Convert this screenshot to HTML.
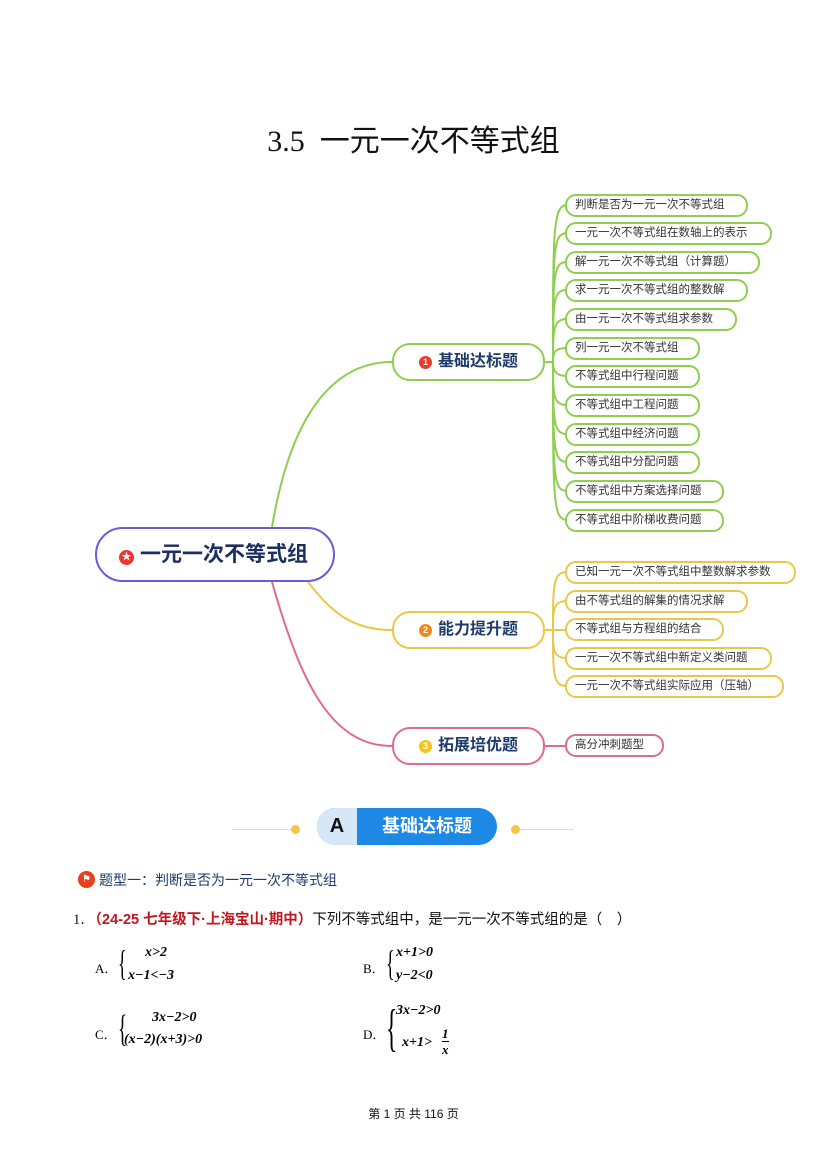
<!DOCTYPE html>
<html><head><meta charset="utf-8"><style>
body{margin:0;background:#fff;}
#p{position:relative;width:827px;height:1169px;overflow:hidden;font-family:"Liberation Sans","Noto Sans CJK SC",sans-serif;}
.a{position:absolute;white-space:nowrap;}
.leaf{position:absolute;height:19px;border:2px solid;border-radius:11px;font-size:11.5px;line-height:19px;padding-left:8px;color:#333;box-sizing:content-box;background:#fff;}
.br{position:absolute;width:149px;height:34px;border:2px solid;border-radius:18px;background:#fff;font-size:16px;font-weight:bold;color:#1d3a6b;line-height:34px;text-align:center;}
.dot{display:inline-block;width:13px;height:13px;border-radius:50%;color:#fff;font-size:9px;line-height:13px;text-align:center;vertical-align:1px;margin-right:6px;}
.serif{font-family:"Liberation Serif","Noto Serif CJK SC",serif;}
</style></head><body><div id="p">
<div class="a" style="left:0;width:827px;top:116px;text-align:center;font-size:30px;color:#111;font-family:'Liberation Serif','Noto Sans CJK SC',serif;">3.5&nbsp; 一元一次不等式组</div>
<svg class="a" style="left:0;top:0" width="827" height="800">
<g fill="none" stroke-width="2">
<path d="M272 527 C 290 420, 330 362, 392 362" stroke="#8fcf4f"/>
<path d="M308 582 C 330 610, 350 630, 392 630" stroke="#e8c84a"/>
<path d="M272 582 C 300 680, 330 746, 392 746" stroke="#e06a94"/>
<g stroke="#8fcf4f">
<path d="M545 362 H553"/>
<path d="M553 362 C553 230,553 205,567 205"/><path d="M553 362 C553 250,553 233,567 233"/>
<path d="M553 362 C553 275,553 262,567 262"/><path d="M553 362 C553 300,553 290,567 290"/>
<path d="M553 362 C553 330,553 319,567 319"/><path d="M553 362 C553 352,555 348,567 348"/>
<path d="M553 362 C553 370,555 376,567 376"/><path d="M553 362 C553 395,553 405,567 405"/>
<path d="M553 362 C553 420,553 434,567 434"/><path d="M553 362 C553 445,553 462,567 462"/>
<path d="M553 362 C553 475,553 491,567 491"/><path d="M553 362 C553 500,553 520,567 520"/>
</g>
<g stroke="#e8c84a">
<path d="M545 630 H553"/>
<path d="M553 630 C553 585,553 572,567 572"/><path d="M553 630 C553 610,553 601,567 601"/>
<path d="M553 630 H567"/><path d="M553 630 C553 650,553 658,567 658"/>
<path d="M553 630 C553 675,553 686,567 686"/>
</g>
<path d="M545 746 H567" stroke="#e06a94"/>
</g></svg>
<div class="a" style="left:95px;top:527px;width:236px;height:51px;border:2.5px solid #7457d8;border-radius:28px;background:#fff;font-size:21px;font-weight:bold;color:#1d2f5e;line-height:51px;padding-left:22px;box-sizing:content-box;width:214px;"><span class="dot" style="background:#e33;width:15px;height:15px;line-height:15px;font-size:10px">★</span>一元一次不等式组</div>
<div class="br" style="left:392px;top:343px;border-color:#8fcf4f"><span class="dot" style="background:#e63b2e">1</span>基础达标题</div>
<div class="br" style="left:392px;top:611px;border-color:#e8c84a"><span class="dot" style="background:#f0861e">2</span>能力提升题</div>
<div class="br" style="left:392px;top:727px;border-color:#e06a94"><span class="dot" style="background:#f5c518">3</span>拓展培优题</div>
<div class="leaf" style="left:565px;top:194px;width:171px;border-color:#8fcf4f">判断是否为一元一次不等式组</div>
<div class="leaf" style="left:565px;top:222px;width:195px;border-color:#8fcf4f">一元一次不等式组在数轴上的表示</div>
<div class="leaf" style="left:565px;top:251px;width:183px;border-color:#8fcf4f">解一元一次不等式组（计算题）</div>
<div class="leaf" style="left:565px;top:279px;width:171px;border-color:#8fcf4f">求一元一次不等式组的整数解</div>
<div class="leaf" style="left:565px;top:308px;width:160px;border-color:#8fcf4f">由一元一次不等式组求参数</div>
<div class="leaf" style="left:565px;top:337px;width:123px;border-color:#8fcf4f">列一元一次不等式组</div>
<div class="leaf" style="left:565px;top:365px;width:123px;border-color:#8fcf4f">不等式组中行程问题</div>
<div class="leaf" style="left:565px;top:394px;width:123px;border-color:#8fcf4f">不等式组中工程问题</div>
<div class="leaf" style="left:565px;top:423px;width:123px;border-color:#8fcf4f">不等式组中经济问题</div>
<div class="leaf" style="left:565px;top:451px;width:123px;border-color:#8fcf4f">不等式组中分配问题</div>
<div class="leaf" style="left:565px;top:480px;width:147px;border-color:#8fcf4f">不等式组中方案选择问题</div>
<div class="leaf" style="left:565px;top:509px;width:147px;border-color:#8fcf4f">不等式组中阶梯收费问题</div>
<div class="leaf" style="left:565px;top:561px;width:219px;border-color:#e8c84a">已知一元一次不等式组中整数解求参数</div>
<div class="leaf" style="left:565px;top:590px;width:171px;border-color:#e8c84a">由不等式组的解集的情况求解</div>
<div class="leaf" style="left:565px;top:618px;width:147px;border-color:#e8c84a">不等式组与方程组的结合</div>
<div class="leaf" style="left:565px;top:647px;width:195px;border-color:#e8c84a">一元一次不等式组中新定义类问题</div>
<div class="leaf" style="left:565px;top:675px;width:207px;border-color:#e8c84a">一元一次不等式组实际应用（压轴）</div>
<div class="leaf" style="left:565px;top:734px;width:87px;border-color:#e06a94">高分冲刺题型</div>
<!-- section header -->
<div class="a" style="left:232px;top:829px;width:60px;height:1px;background:#ddd"></div>
<div class="a" style="left:291px;top:825px;width:9px;height:9px;border-radius:50%;background:#f5c542"></div>
<div class="a" style="left:511px;top:825px;width:9px;height:9px;border-radius:50%;background:#f5c542"></div>
<div class="a" style="left:520px;top:829px;width:54px;height:1px;background:#ddd"></div>
<div class="a" style="left:317px;top:808px;width:180px;height:37px;border-radius:19px;background:#1e88e5;overflow:hidden">
<div style="position:absolute;left:0;top:0;width:40px;height:37px;background:#d6e8f8;font-size:20px;font-weight:bold;color:#111;line-height:37px;text-align:center">A</div>
<div style="position:absolute;left:40px;top:0;width:140px;height:37px;color:#fff;font-size:18px;font-weight:bold;line-height:37px;text-align:center">基础达标题</div></div>
<div class="a" style="left:78px;top:871px;width:17px;height:17px;border-radius:50%;background:#e8401c;color:#fff;font-size:10px;line-height:17px;text-align:center">⚑</div>
<div class="a" style="left:99px;top:871px;font-size:14px;color:#1d3a6b;line-height:18px">题型一：判断是否为一元一次不等式组</div>
<div class="a" style="left:73px;top:911px;font-size:14.5px;color:#111;line-height:18px"><span class="serif">1．</span><b style="color:#c0171d">（24-25 七年级下·上海宝山·期中）</b>下列不等式组中，是一元一次不等式组的是（　）</div>
<div class="a serif" style="left:95px;top:958px;font-size:13px">A．</div>
<div class="a serif" style="left:118px;top:943px;font-size:36px;line-height:40px;transform:scaleX(.5);transform-origin:left">{</div>
<div class="a serif" style="left:145px;top:945px;font-size:14px;font-weight:bold;font-style:italic">x&gt;2</div>
<div class="a serif" style="left:128px;top:968px;font-size:14px;font-weight:bold;font-style:italic">x−1&lt;−3</div>
<div class="a serif" style="left:363px;top:958px;font-size:13px">B．</div>
<div class="a serif" style="left:386px;top:943px;font-size:36px;line-height:40px;transform:scaleX(.5);transform-origin:left">{</div>
<div class="a serif" style="left:396px;top:945px;font-size:14px;font-weight:bold;font-style:italic">x+1&gt;0</div>
<div class="a serif" style="left:396px;top:968px;font-size:14px;font-weight:bold;font-style:italic">y−2&lt;0</div>
<div class="a serif" style="left:95px;top:1024px;font-size:13px">C．</div>
<div class="a serif" style="left:118px;top:1008px;font-size:38px;line-height:42px;transform:scaleX(.5);transform-origin:left">{</div>
<div class="a serif" style="left:152px;top:1010px;font-size:14px;font-weight:bold;font-style:italic">3x−2&gt;0</div>
<div class="a serif" style="left:124px;top:1032px;font-size:14px;font-weight:bold;font-style:italic">(x−2)(x+3)&gt;0</div>
<div class="a serif" style="left:363px;top:1024px;font-size:13px">D．</div>
<div class="a serif" style="left:386px;top:1000px;font-size:52px;line-height:58px;transform:scaleX(.45);transform-origin:left">{</div>
<div class="a serif" style="left:396px;top:1003px;font-size:14px;font-weight:bold;font-style:italic">3x−2&gt;0</div>
<div class="a serif" style="left:402px;top:1035px;font-size:14px;font-weight:bold;font-style:italic">x+1&gt;</div>
<div class="a serif" style="left:442px;top:1026px;font-size:13px;font-weight:bold;text-align:center;line-height:15px"><i style="display:block">1</i><span style="display:block;border-top:1px solid #000;font-style:italic">x</span></div>
<div class="a" style="left:0;width:827px;top:1105px;text-align:center;font-size:12px;color:#111">第 1 页 共 116 页</div>
</div></body></html>
